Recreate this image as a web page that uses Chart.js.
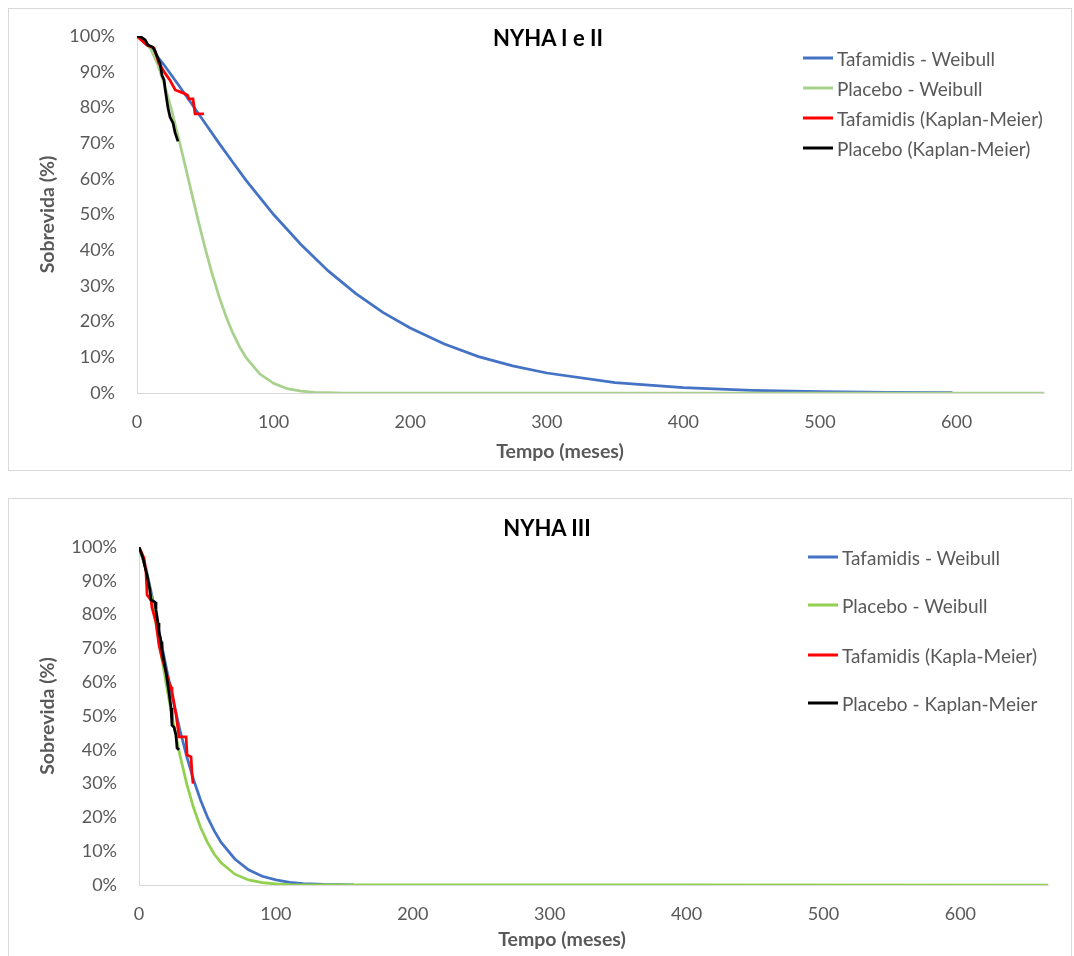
<!DOCTYPE html>
<html lang="pt-BR">
<head>
<meta charset="utf-8">
<title>Sobrevida - NYHA</title>
<script src="https://cdn.jsdelivr.net/npm/chart.js@4.4.0/dist/chart.umd.min.js"></script>
<style>
  body { margin: 0; background: #fff; font-family: Lato, "Open Sans", sans-serif; }
  .box { position: absolute; left: 8px; width: 1064px; box-sizing: border-box; border: 1px solid #d9d9d9; background: #fff; }
  #box1 { top: 8px; height: 463px; }
  #box2 { top: 498px; height: 470px; }
  .box canvas { position: absolute; left: 0; top: 0; }
  .titulo { position: absolute; transform: translate(-50%, -50%); font: bold 22px Lato, sans-serif; color: #000; white-space: nowrap; }
  .eixo-x { position: absolute; transform: translate(-50%, -50%); font: bold 19.5px Lato, sans-serif; color: #595959; white-space: nowrap; }
  .item { position: absolute; display: flex; align-items: center; white-space: nowrap; transform: translateY(-50%); font: 19px Lato, sans-serif; color: #595959; }
  .item .linha { display: inline-block; width: 30px; height: 3px; margin-right: 4px; }
</style>
</head>
<body>

<div class="box" id="box1">
  <canvas id="grafico1" width="1062" height="461"></canvas>
  <div class="titulo" style="left:539px; top:28px">NYHA I e II</div>
  <div class="eixo-x" style="left:551px; top:441px">Tempo (meses)</div>
  <div id="leg1"></div>
</div>

<div class="box" id="box2">
  <canvas id="grafico2" width="1062" height="468"></canvas>
  <div class="titulo" style="left:538px; top:28px">NYHA III</div>
  <div class="eixo-x" style="left:553px; top:439px">Tempo (meses)</div>
  <div id="leg2"></div>
</div>

<script>
// ---- NYHA I e II ----
const t1TafWeibull = [0, 10, 20, 30, 40, 50, 60, 70, 80, 90, 100, 120, 140, 160, 180, 200, 225, 250, 275, 300, 350, 400, 450, 500, 550, 597];
const s1TafWeibull = [100, 96.6, 91.8, 86.5, 81.0, 75.5, 70.0, 64.7, 59.5, 54.7, 50.0, 41.6, 34.2, 27.9, 22.6, 18.2, 13.7, 10.2, 7.6, 5.6, 2.9, 1.5, 0.75, 0.36, 0.17, 0.08];

const t1PlaWeibull = [0, 5, 10, 15, 20, 25, 30, 35, 40, 45, 50, 55, 60, 65, 70, 75, 80, 90, 100, 110, 120, 130, 140, 150, 664];
const s1PlaWeibull = [100, 99.1, 96.4, 92.2, 86.5, 79.7, 72.1, 64.1, 56.0, 48.0, 40.4, 33.4, 27.1, 21.6, 16.9, 13.0, 9.8, 5.3, 2.7, 1.2, 0.5, 0.2, 0.1, 0, 0];

const t1TafKM = [0, 7, 12.5, 16, 20.5, 24, 28, 34, 37, 38, 41, 42.5, 49];
const s1TafKM = [100, 97.5, 96.6, 92.4, 89.6, 87.7, 84.9, 84, 83.4, 82.4, 82.4, 78.2, 78.2];

const t1PlaKM = [0, 3, 6, 8, 11.5, 13, 16.8, 18.3, 19.8, 20.5, 22.7, 24.2, 26.4, 27.8, 30];
const s1PlaKM = [100, 99.7, 98.9, 97.5, 96.9, 96, 92.4, 89, 87.7, 85.4, 79.8, 77.3, 75.6, 73, 70.5];

// ---- NYHA III ----
const t2TafWeibull = [0, 5, 10, 15, 20, 25, 30, 35, 40, 45, 50, 55, 60, 70, 80, 90, 100, 110, 120, 135, 157];
const s2TafWeibull = [100, 93.8, 84.5, 74.3, 64.1, 54.5, 45.7, 37.8, 31.0, 25.1, 20.1, 16.0, 12.6, 7.7, 4.5, 2.6, 1.5, 0.8, 0.4, 0.15, 0.05];

const t2PlaWeibull = [0, 5, 10, 15, 20, 25, 30, 35, 40, 45, 50, 55, 60, 70, 80, 90, 100, 110, 664];
const s2PlaWeibull = [100, 93.7, 83.1, 71.1, 59.2, 48.0, 38.2, 29.7, 22.7, 17.0, 12.6, 9.1, 6.6, 3.2, 1.5, 0.7, 0.3, 0.1, 0];

const t2TafKM = [0, 3.7, 5.1, 5.9, 8.8, 9.5, 12.4, 14.6, 16.8, 19.8, 21.9, 23.4, 24.1, 27, 29.3, 34.4, 35.1, 38, 38.8, 39.5];
const s2TafKM = [100, 96.7, 92.6, 85.8, 84.3, 82, 77.8, 71, 67.2, 63, 60, 58.6, 57.2, 50.5, 43.8, 43.8, 38.5, 37.9, 32.5, 30];

const t2PlaKM = [0, 2.9, 4.4, 5.9, 8, 8.8, 11.7, 12.4, 13.9, 14.6, 16.1, 16.8, 19.7, 21.9, 23.4, 24.1, 25.6, 27, 27.8, 29.3];
const s2PlaKM = [100, 96.7, 94, 91.7, 87.3, 84.3, 83.7, 81.4, 77.5, 74.9, 72, 69.5, 63, 57, 52.4, 47.3, 46.7, 44.4, 40.5, 40];

const xTicks = [0, 100, 200, 300, 400, 500, 600];
const xMax = 664;

const cinza = '#595959';
const fonte = 'Lato';

function pontos(t, s) {
  return t.map((x, i) => ({ x: x, y: s[i] }));
}

function serie(label, t, s, cor, ordem) {
  return { label: label, data: pontos(t, s), borderColor: cor, backgroundColor: cor, order: ordem };
}

// legenda em HTML, sobreposta à área do gráfico (como no Excel)
function montarLegenda(el, datasets, left, linhas) {
  datasets.forEach((ds, i) => {
    const item = document.createElement('div');
    item.className = 'item';
    item.style.left = left + 'px';
    item.style.top = linhas[i] + 'px';
    item.innerHTML = '<span class="linha" style="background:' + ds.borderColor + '"></span>' + ds.label;
    el.appendChild(item);
  });
}

function criarGrafico(canvasId, datasets, cfg) {
  return new Chart(document.getElementById(canvasId), {
    type: 'line',
    data: { datasets: datasets },
    options: {
      responsive: false,
      animation: false,
      layout: { padding: { top: cfg.top, right: cfg.right, bottom: 0, left: 0 } },
      plugins: { legend: { display: false }, tooltip: { enabled: false } },
      elements: { point: { radius: 0 }, line: { borderWidth: 2.75, tension: 0 } },
      scales: {
        x: {
          type: 'linear', min: 0, max: xMax,
          grid: { display: false, drawTicks: false },
          border: { color: '#d9d9d9', width: 1 },
          afterBuildTicks: s => { s.ticks = xTicks.map(v => ({ value: v })); },
          ticks: { padding: 18, color: cinza, font: { family: fonte, size: 18 }, maxRotation: 0, autoSkip: false },
          afterFit: s => { s.height = cfg.xh; }
        },
        y: {
          min: 0, max: 100,
          grid: { display: false, drawTicks: false },
          border: { color: '#d9d9d9', width: 1 },
          ticks: { stepSize: 10, padding: 22, color: cinza, font: { family: fonte, size: 18 }, callback: v => v + '%' },
          title: { display: true, text: 'Sobrevida (%)', color: cinza, font: { family: fonte, size: 19.5, weight: 'bold' }, padding: { top: 27, bottom: 0 } },
          // o padding dos rótulos não deve empurrar a área do gráfico
          afterFit: s => { s.width = cfg.yw; s.paddingTop = 0; s.paddingBottom = 0; }
        }
      }
    }
  });
}

const ds1 = [
  serie('Tafamidis - Weibull', t1TafWeibull, s1TafWeibull, '#4472c4', 4),
  serie('Placebo - Weibull', t1PlaWeibull, s1PlaWeibull, '#a9d18e', 3),
  serie('Tafamidis (Kaplan-Meier)', t1TafKM, s1TafKM, '#ff0000', 2),
  serie('Placebo (Kaplan-Meier)', t1PlaKM, s1PlaKM, '#000000', 1)
];

const ds2 = [
  serie('Tafamidis - Weibull', t2TafWeibull, s2TafWeibull, '#4472c4', 4),
  serie('Placebo - Weibull', t2PlaWeibull, s2PlaWeibull, '#92d050', 3),
  serie('Tafamidis (Kapla-Meier)', t2TafKM, s2TafKM, '#ff0000', 2),
  serie('Placebo - Kaplan-Meier', t2PlaKM, s2PlaKM, '#000000', 1)
];

criarGrafico('grafico1', ds1, { top: 27, right: 27, xh: 77, yw: 128 });
criarGrafico('grafico2', ds2, { top: 48, right: 23, xh: 82, yw: 130 });

montarLegenda(document.getElementById('leg1'), ds1, 794, [49, 79, 109, 139]);
montarLegenda(document.getElementById('leg2'), ds2, 799, [58, 106, 156, 204]);
</script>
</body>
</html>
